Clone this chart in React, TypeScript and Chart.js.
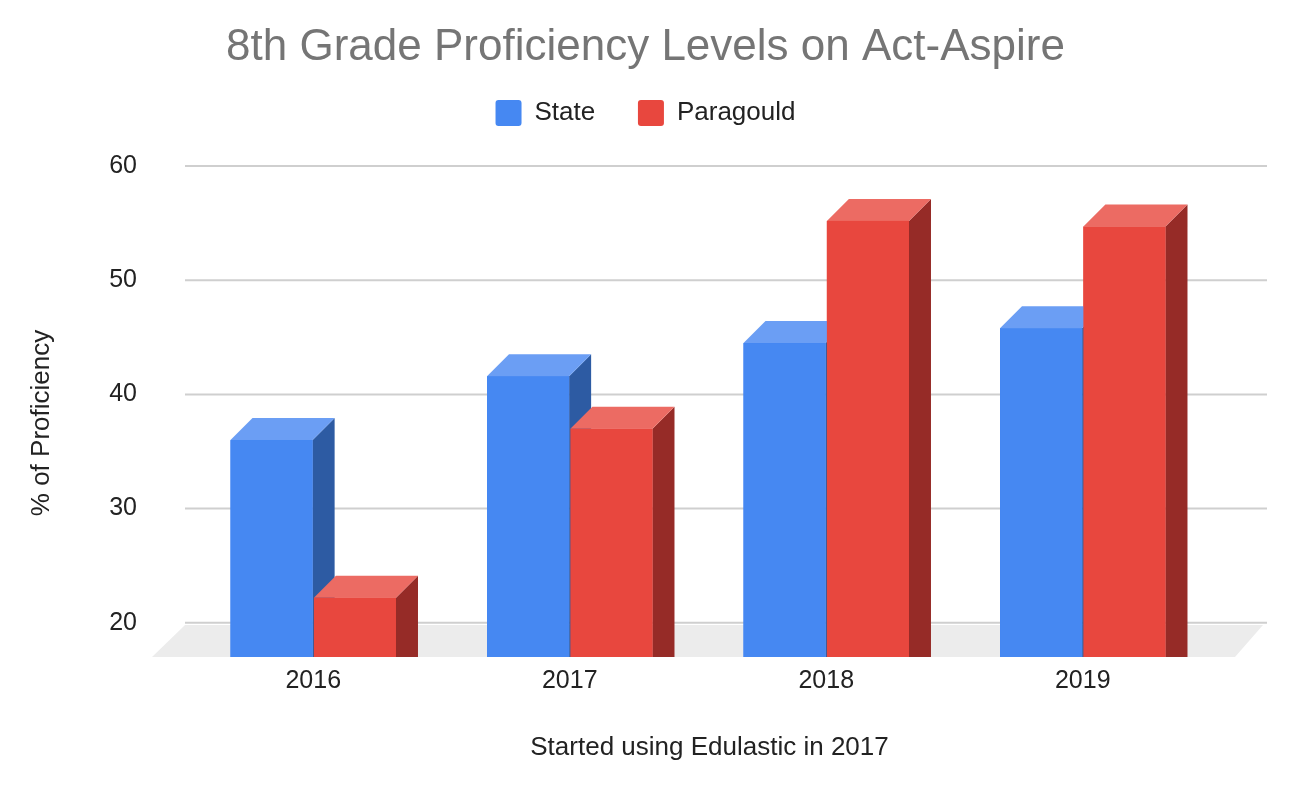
import React, { useEffect, useRef } from "react";
import { Chart, registerables } from "chart.js";

Chart.register(...registerables);

const categories = ["2016", "2017", "2018", "2019"];
const stateValues = [36, 41.6, 44.5, 45.8];
const paragouldValues = [22.2, 37, 55.2, 54.7];
const yTickValues = [20, 30, 40, 50, 60];
const seriesLabels = ["State", "Paragould"];
const chartTitle = "8th Grade Proficiency Levels on Act-Aspire";
const xAxisTitle = "Started using Edulastic in 2017";
const yAxisTitle = "% of Proficiency";

const Y_MIN = 17;
const Y_MAX = 60;
const FONT = "'Liberation Sans', Arial, Helvetica, sans-serif";
const DEPTH = 22;

const faceColors = [
  { front: "#4688f2", top: "#6b9ef4", side: "#2d5ba3" },
  { front: "#e8473e", top: "#ec6b63", side: "#962b27" },
];

const floorGridPlugin = {
  id: "floorGrid",
  beforeDatasetsDraw(chart: any) {
    const { ctx, chartArea } = chart;
    const { left, right, bottom } = chartArea;
    ctx.save();
    ctx.fillStyle = "#ececec";
    ctx.beginPath();
    ctx.moveTo(left - 33, bottom);
    ctx.lineTo(right + 24, bottom);
    ctx.lineTo(right + 52, bottom - 32);
    ctx.lineTo(left, bottom - 32);
    ctx.closePath();
    ctx.fill();
    ctx.strokeStyle = "#cfcfcf";
    ctx.lineWidth = 2;
    yTickValues.forEach((v) => {
      const y = chart.scales.y.getPixelForValue(v);
      ctx.beginPath();
      ctx.moveTo(left, y);
      ctx.lineTo(right + 56, y);
      ctx.stroke();
    });
    ctx.restore();
  },
};

// Draws each bar as a box (side, top, front) using the bar elements' geometry,
// category by category, so the right-hand bar correctly covers its neighbour.
const bar3dPlugin = {
  id: "bar3d",
  afterDatasetsDraw(chart: any) {
    const ctx = chart.ctx;
    const metas = chart.data.datasets.map((_: any, i: number) => chart.getDatasetMeta(i));
    ctx.save();
    categories.forEach((_, ci) => {
      metas.forEach((meta: any, di: number) => {
        const el = meta.data[ci];
        if (!el) return;
        const colors = faceColors[di];
        const { x, y, base, width } = el.getProps(["x", "y", "base", "width"], true);
        const l = x - width / 2;
        const r = x + width / 2;
        ctx.fillStyle = colors.side;
        ctx.beginPath();
        ctx.moveTo(r, y);
        ctx.lineTo(r + DEPTH, y - DEPTH);
        ctx.lineTo(r + DEPTH, base);
        ctx.lineTo(r, base);
        ctx.closePath();
        ctx.fill();
        ctx.fillStyle = colors.top;
        ctx.beginPath();
        ctx.moveTo(l, y);
        ctx.lineTo(l + DEPTH, y - DEPTH);
        ctx.lineTo(r + DEPTH, y - DEPTH);
        ctx.lineTo(r, y);
        ctx.closePath();
        ctx.fill();
        ctx.fillStyle = colors.front;
        ctx.fillRect(l, y, width, base - y);
      });
    });
    ctx.restore();
  },
};

const axisTitlesPlugin = {
  id: "axisTitles",
  afterDraw(chart: any) {
    const { ctx, chartArea } = chart;
    ctx.save();
    ctx.fillStyle = "#222222";
    ctx.font = `26px ${FONT}`;
    ctx.textAlign = "center";
    ctx.textBaseline = "middle";
    const cx = (chartArea.left - 33 + chartArea.right + 56) / 2;
    ctx.fillText(xAxisTitle, cx, 748);
    ctx.translate(42, 423);
    ctx.rotate(-Math.PI / 2);
    ctx.fillText(yAxisTitle, 0, 0);
    ctx.restore();
  },
};

export default function App() {
  const canvasRef = useRef<HTMLCanvasElement | null>(null);

  useEffect(() => {
    const canvas = canvasRef.current;
    if (!canvas) return;
    const hidden = {
      display: true,
      ticks: { display: false },
      grid: { display: false, drawTicks: false },
      border: { display: false },
    };
    const chart = new Chart(canvas, {
      type: "bar",
      data: {
        labels: categories,
        datasets: [
          {
            label: seriesLabels[0],
            data: stateValues,
            backgroundColor: faceColors[0].front,
            base: Y_MIN,
            categoryPercentage: 0.65,
            barPercentage: 0.985,
            borderWidth: 0,
            clip: false,
          } as any,
          {
            label: seriesLabels[1],
            data: paragouldValues,
            backgroundColor: faceColors[1].front,
            base: Y_MIN,
            categoryPercentage: 0.65,
            barPercentage: 0.985,
            borderWidth: 0,
            clip: false,
          } as any,
        ],
      },
      options: {
        responsive: false,
        animation: false,
        devicePixelRatio: 1,
        events: [],
        layout: { padding: 0 },
        plugins: {
          tooltip: { enabled: false },
          title: {
            display: true,
            text: chartTitle,
            color: "#757575",
            font: { family: FONT, size: 44, weight: "normal" },
            padding: { top: 21.6, bottom: -17 },
          },
          legend: {
            display: true,
            position: "top",
            labels: {
              color: "#222222",
              font: { family: FONT, size: 26 },
              boxWidth: 26,
              boxHeight: 26,
              padding: 42.7,
              useBorderRadius: true,
              borderRadius: 3,
            },
          },
        },
        scales: {
          x: {
            type: "category",
            position: "bottom",
            ticks: { color: "#222222", font: { family: FONT, size: 25 }, padding: 9.5 },
            grid: { display: false, drawTicks: false },
            border: { display: false },
            afterFit: (s: any) => {
              s.height = 135;
            },
          },
          xTop: {
            type: "category",
            position: "top",
            ...hidden,
            afterFit: (s: any) => {
              s.height = 30;
            },
          },
          y: {
            type: "linear",
            position: "left",
            min: Y_MIN,
            max: Y_MAX,
            afterBuildTicks: (s: any) => {
              s.ticks = yTickValues.map((v) => ({ value: v }));
            },
            ticks: { color: "#222222", font: { family: FONT, size: 25 }, padding: 48 },
            grid: { display: false, drawTicks: false },
            border: { display: false },
            afterFit: (s: any) => {
              s.width = 185;
            },
          },
          yRight: {
            type: "linear",
            position: "right",
            ...hidden,
            afterFit: (s: any) => {
              s.width = 80;
            },
          },
        },
      } as any,
      plugins: [floorGridPlugin, bar3dPlugin, axisTitlesPlugin],
    });
    return () => chart.destroy();
  }, []);

  return (
    <div style={{ position: "fixed", left: 0, top: 0, width: 1291, height: 792, background: "#ffffff" }}>
      <canvas ref={canvasRef} width={1291} height={792} />
    </div>
  );
}
